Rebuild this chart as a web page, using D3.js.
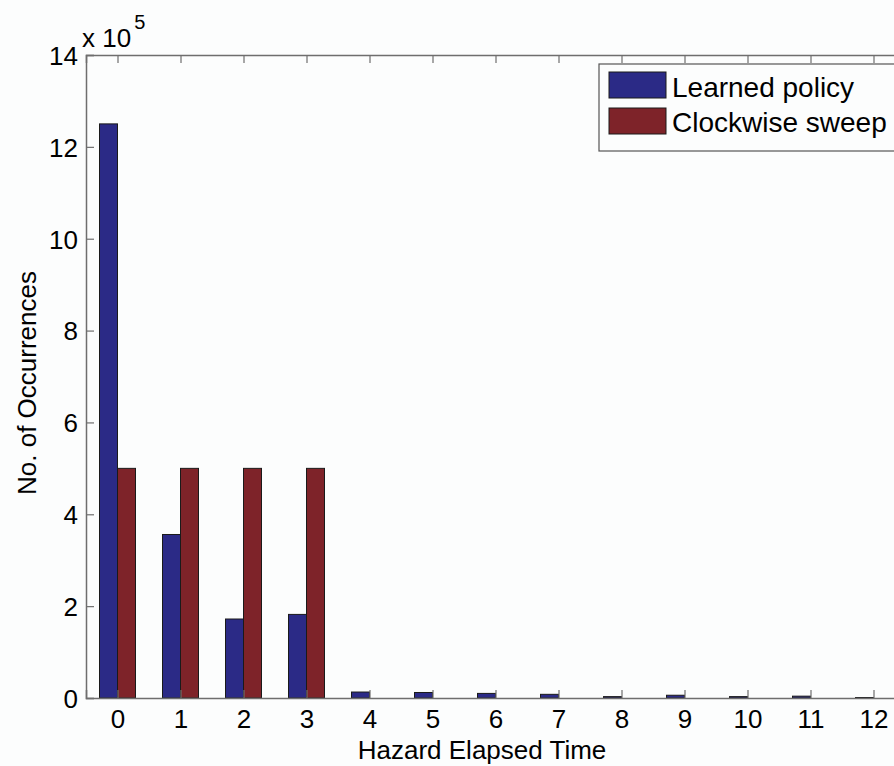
<!DOCTYPE html>
<html>
<head>
<meta charset="utf-8">
<script src="https://cdn.jsdelivr.net/npm/d3@7"></script>
<style>
  body { margin: 0; background: #fcfdfd; }
  text { font-family: "Liberation Sans", Arial, sans-serif; fill: #000; }
</style>
</head>
<body>
<div id="chart"></div>
<script>
var categories = [0, 1, 2, 3, 4, 5, 6, 7, 8, 9, 10, 11, 12];
var learned = [12.5, 3.56, 1.72, 1.82, 0.13, 0.12, 0.1, 0.08, 0.03, 0.06, 0.03, 0.04, 0.01];
var sweep = [5.0, 5.0, 5.0, 5.0, 0, 0, 0, 0, 0, 0, 0, 0, 0];
var yTicks = [0, 2, 4, 6, 8, 10, 12, 14];
var seriesNames = ["Learned policy", "Clockwise sweep"];
var colors = ["#2b2a86", "#7e2329"];

var width = 894, height = 766;
var margin = {left: 86, top: 55, bottom: 67};
var plotH = height - margin.top - margin.bottom;

var svg = d3.select("#chart").append("svg")
    .attr("width", width)
    .attr("height", height);

var x = d3.scaleLinear().domain([-0.5, 12.5]).range([margin.left, margin.left + 13 * 63]);
var y = d3.scaleLinear().domain([0, 14]).range([margin.top + plotH - 1, margin.top]);

var barW = 18;
var series = [learned, sweep];

series.forEach(function(vals, si) {
  svg.append("g")
    .selectAll("rect")
    .data(vals)
    .enter().append("rect")
      .attr("x", function(d, i) { return x(categories[i]) + (si - 1) * barW; })
      .attr("y", function(d) { return y(d); })
      .attr("width", barW)
      .attr("height", function(d) { return y(0) - y(d); })
      .attr("fill", colors[si])
      .attr("stroke", "#1a1a1a")
      .attr("stroke-width", 1);
});

// axes, MATLAB style: ticks inside, box top
var axisColor = "#6e6e6e";
var xAx = svg.append("g")
    .attr("transform", "translate(0," + y(0) + ")")
    .call(d3.axisBottom(x).tickValues(categories).tickSize(-8).tickPadding(12).tickFormat(d3.format("d")));
var xTop = svg.append("g")
    .attr("transform", "translate(0," + y(14) + ")")
    .call(d3.axisTop(x).tickValues(categories).tickSize(-8).tickFormat(""));
var yAx = svg.append("g")
    .attr("transform", "translate(" + x(-0.5) + ",0)")
    .call(d3.axisLeft(y).tickValues(yTicks).tickSize(-8).tickPadding(8));

[xAx, xTop, yAx].forEach(function(g) {
  g.select(".domain").attr("stroke", axisColor).attr("stroke-width", 1.5);
  g.selectAll(".tick line").attr("stroke", axisColor).attr("stroke-width", 1.2);
  g.selectAll("text").style("font-size", "26px").attr("fill", "#000");
});
yAx.selectAll("text").attr("dy", "0.36em");

// exponent label
var exp = svg.append("text")
    .attr("x", 82)
    .attr("y", 47)
    .style("font-size", "26px");
exp.append("tspan").text("x 10");
exp.append("tspan").attr("dx", 3).attr("dy", -18).style("font-size", "20px").text("5");

// axis titles
svg.append("text")
    .attr("x", 482)
    .attr("y", 759)
    .attr("text-anchor", "middle")
    .style("font-size", "26px")
    .text("Hazard Elapsed Time");

svg.append("text")
    .attr("transform", "translate(36,383) rotate(-90)")
    .attr("text-anchor", "middle")
    .style("font-size", "26px")
    .text("No. of Occurrences");

// legend
var legend = svg.append("g").attr("transform", "translate(599,64)");
legend.append("rect")
    .attr("width", 300)
    .attr("height", 87)
    .attr("fill", "#fcfdfd")
    .attr("stroke", "#555")
    .attr("stroke-width", 1.2);
seriesNames.forEach(function(name, i) {
  legend.append("rect")
      .attr("x", 10)
      .attr("y", 8 + i * 36)
      .attr("width", 57)
      .attr("height", 26)
      .attr("fill", colors[i])
      .attr("stroke", "#1a1a1a");
  legend.append("text")
      .attr("x", 73)
      .attr("y", 33 + i * 35)
      .style("font-size", "28px")
      .text(name);
});
</script>
</body>
</html>
